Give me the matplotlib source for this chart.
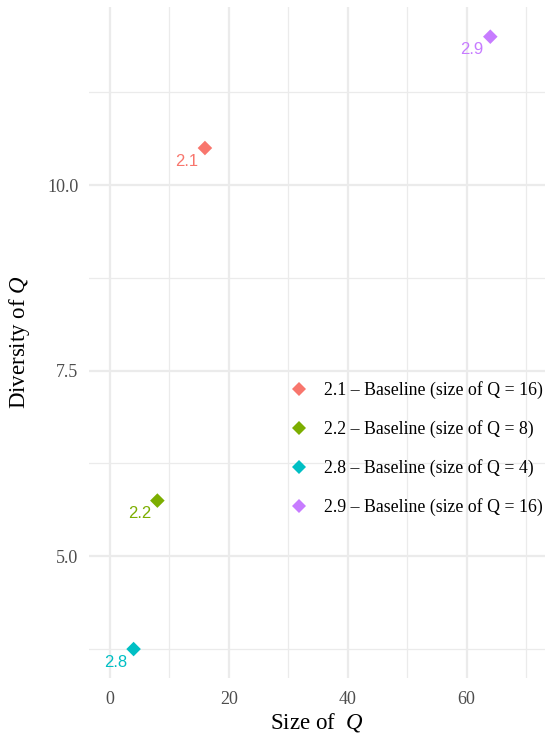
import matplotlib
matplotlib.use("Agg")
import matplotlib.pyplot as plt
from matplotlib.lines import Line2D

plt.rcParams["mathtext.fontset"] = "custom"
plt.rcParams["mathtext.rm"] = "Liberation Serif"
plt.rcParams["mathtext.it"] = "Liberation Serif:italic"

# Data
ids = ["2.1", "2.2", "2.8", "2.9"]
size_q = [16, 8, 4, 64]
diversity_q = [10.5, 5.75, 3.75, 12.0]
legend_labels = [
    "2.1 \u2013 Baseline (size of Q = 16)",
    "2.2 \u2013 Baseline (size of Q = 8)",
    "2.8 \u2013 Baseline (size of Q = 4)",
    "2.9 \u2013 Baseline (size of Q = 16)",
]
colors = ["#F8766D", "#7CAE00", "#00BFC4", "#C77CFF"]
x_ticks = [0, 20, 40, 60]
x_minor = [10, 30, 50, 70]
y_ticks = [5.0, 7.5, 10.0]
y_minor = [3.75, 6.25, 8.75, 11.25]

fig = plt.figure(figsize=(5.45, 7.36), dpi=100)
ax = fig.add_axes([89 / 545, 1 - 678 / 736, 1 - 89 / 545, (678 - 7) / 736])

ax.set_xlim(-3.5, 73.2)
ax.set_ylim(3.36, 12.4)

grid_col = "#EBEBEB"
for v in x_ticks:
    ax.axvline(v, color=grid_col, lw=1.6, zorder=0)
for v in x_minor:
    ax.axvline(v, color=grid_col, lw=0.9, zorder=0)
for v in y_ticks:
    ax.axhline(v, color=grid_col, lw=1.6, zorder=0)
for v in y_minor:
    ax.axhline(v, color=grid_col, lw=0.9, zorder=0)

for x, y, c, lab in zip(size_q, diversity_q, colors, ids):
    ax.scatter([x], [y], marker="D", s=55, color=c, edgecolor="none", zorder=3)
    ax.annotate(lab, (x, y), xytext=(-13, -9.5), textcoords="offset points",
                ha="center", va="center", color=c, fontsize=12,
                family="Liberation Sans", zorder=3)

for s in ax.spines.values():
    s.set_visible(False)
ax.tick_params(length=0, labelsize=13, labelcolor="#4D4D4D")
ax.tick_params(axis="x", pad=9.5)
ax.tick_params(axis="y", pad=7.5)
ax.set_xticks(x_ticks)
ax.set_xticklabels([str(v) for v in x_ticks], family="Liberation Serif")
ax.set_yticks(y_ticks)
ax.set_yticklabels([f"{v:.1f}" for v in y_ticks], family="Liberation Serif")

ax.set_xlabel("Size of  $Q$", fontsize=16.5, family="Liberation Serif", labelpad=2)
ax.set_ylabel("Diversity of $Q$", fontsize=16.5, family="Liberation Serif", labelpad=11)

handles = [Line2D([], [], marker="D", linestyle="none", color=c, markersize=7.5,
                  markeredgewidth=0) for c in colors]
leg = fig.legend(handles, legend_labels, loc="center left",
                 bbox_to_anchor=(288 / 545, 1 - 448.5 / 736),
                 bbox_transform=fig.transFigure, frameon=False,
                 prop={"family": "Liberation Serif", "size": 12.8},
                 handletextpad=0.85, labelspacing=1.19, handlelength=1.2,
                 borderaxespad=0, borderpad=0)

fig.savefig("out.png", dpi=100)
